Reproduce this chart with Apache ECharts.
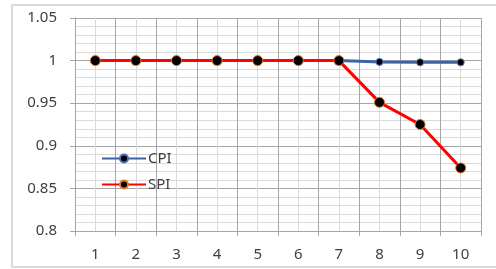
<!DOCTYPE html>
<html>
<head>
<meta charset="utf-8">
<script src="https://cdn.jsdelivr.net/npm/echarts@6/dist/echarts.min.js"></script>
<style>
  html, body { margin: 0; padding: 0; background: #fff; }
  #main { width: 496px; height: 269px; }
</style>
</head>
<body>
<div id="main"></div>
<script>
var periods = ['1', '2', '3', '4', '5', '6', '7', '8', '9', '10'];
var cpiValues = [1, 1, 1, 1, 1, 1, 1, 0.9985, 0.998, 0.998];
var spiValues = [1, 1, 1, 1, 1, 1, 1, 0.951, 0.925, 0.874];
var yTicks = [0.8, 0.85, 0.9, 0.95, 1, 1.05];

// half-step positions, only used for the light vertical grid lines
var halfSteps = [];
for (var i = 0; i <= periods.length * 2; i++) halfSteps.push(String(i));

var labelFont = { fontFamily: 'Noto Sans', fontSize: 15, color: '#404040' };

var myChart = echarts.init(document.getElementById('main'));

myChart.setOption({
    animation: false,
    graphic: [{
        type: 'rect',
        shape: { x: 12, y: 5, width: 490, height: 262 },
        style: { fill: 'none', stroke: '#d0d0d0', lineWidth: 1.5 },
        silent: true, z: -10
    }],
    grid: { left: 75, right: 15, top: 18, bottom: 38 },
    legend: {
        orient: 'vertical',
        left: 96, top: 146,
        itemWidth: 44, itemHeight: 10, itemGap: 11,
        textStyle: { fontFamily: 'Noto Sans', fontSize: 15, color: '#404040', padding: [0, 0, 0, -3] },
        data: ['CPI', 'SPI']
    },
    xAxis: [{
        type: 'category',
        data: periods,
        boundaryGap: true,
        axisLine: { lineStyle: { color: '#a6a6a6' } },
        axisTick: { show: true, length: 5, lineStyle: { color: '#a6a6a6' } },
        axisLabel: Object.assign({ margin: 16 }, labelFont),
        splitLine: { show: true, lineStyle: { color: '#a6a6a6', width: 1 } },
        z: 3
    }, {
        type: 'category',
        data: halfSteps,
        boundaryGap: false,
        position: 'bottom',
        axisLine: { show: false },
        axisTick: { show: false },
        axisLabel: { show: false },
        splitLine: { show: true, interval: 0, lineStyle: { color: '#dadada', width: 1 } },
        z: 1
    }],
    yAxis: {
        type: 'value',
        min: yTicks[0],
        max: yTicks[yTicks.length - 1],
        interval: 0.05,
        axisLine: { show: true, lineStyle: { color: '#a6a6a6' } },
        axisTick: { show: true, length: 5, lineStyle: { color: '#a6a6a6' } },
        axisLabel: Object.assign({ margin: 18 }, labelFont),
        splitLine: { show: true, lineStyle: { color: '#a6a6a6', width: 1 } },
        minorTick: { show: false, splitNumber: 5 },
        minorSplitLine: { show: true, lineStyle: { color: '#dadada', width: 1 } }
    },
    series: [{
        name: 'CPI',
        type: 'line',
        data: cpiValues,
        symbol: 'circle',
        symbolSize: 7,
        lineStyle: { color: '#3c63a8', width: 3 },
        itemStyle: { color: '#000', borderColor: '#4a72b8', borderWidth: 1 },
        z: 3
    }, {
        name: 'SPI',
        type: 'line',
        data: spiValues,
        symbol: 'circle',
        symbolSize: 10,
        lineStyle: { color: '#ff0000', width: 3 },
        itemStyle: { color: '#000', borderColor: '#e07a2a', borderWidth: 1 },
        z: 4
    }]
});
</script>
</body>
</html>
